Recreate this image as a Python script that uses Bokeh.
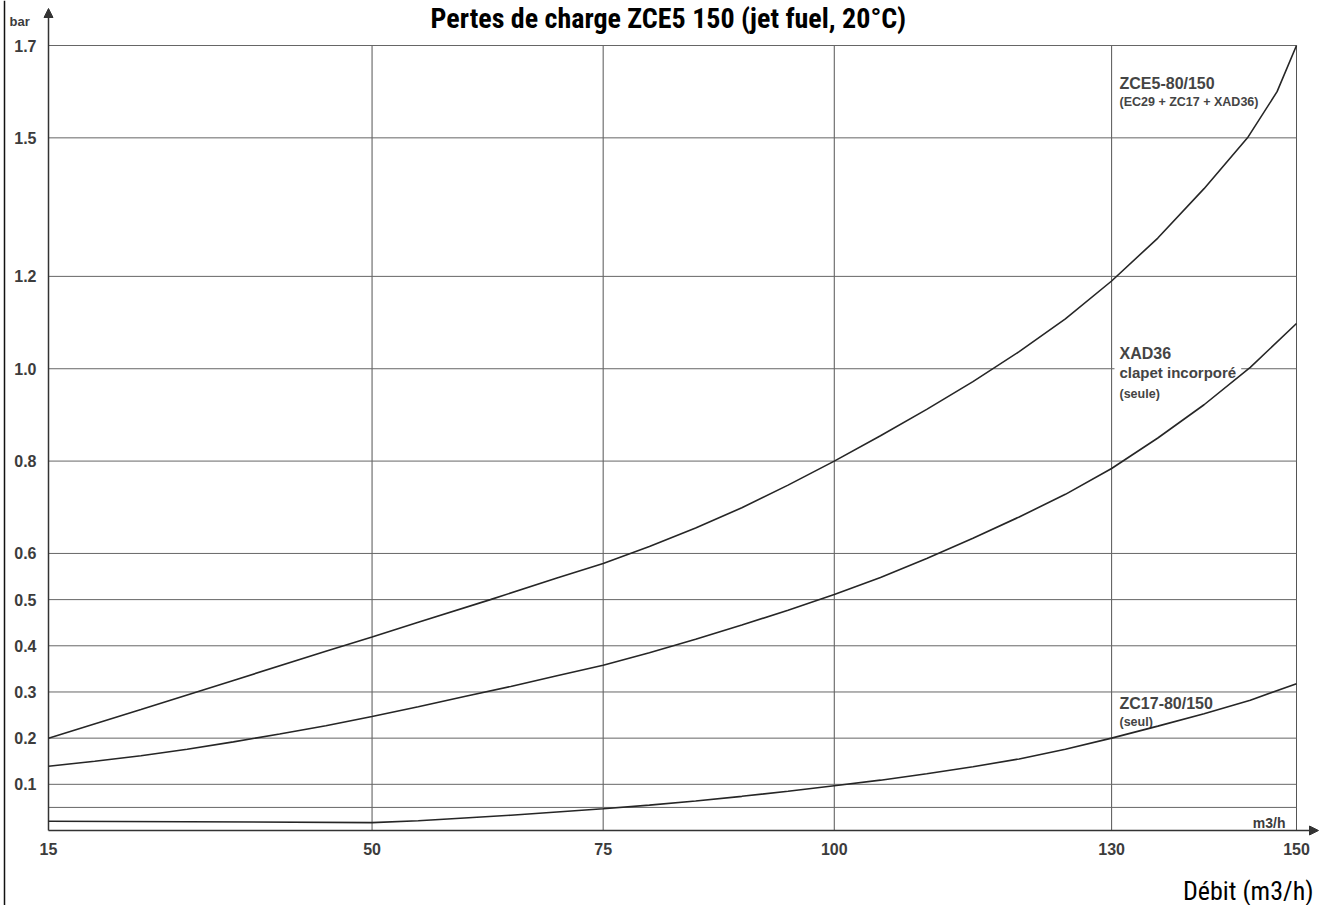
from bokeh.plotting import figure
from bokeh.models import Range1d, Label, Arrow, NormalHead, Span
from bokeh.core.properties import value
from bokeh.embed import file_html
from bokeh.resources import INLINE

# ---------------- data ----------------
title_text = "Pertes de charge ZCE5 150  (jet fuel, 20°C)"
x_axis_title = "Débit (m3/h)"
y_unit = "bar"
x_unit = "m3/h"

x_ticks = [15, 50, 75, 100, 130, 150]
x_tick_labels = ["15", "50", "75", "100", "130", "150"]
x_grid = [50, 75, 100, 130, 150]
y_ticks = [0.1, 0.2, 0.3, 0.4, 0.5, 0.6, 0.8, 1.0, 1.2, 1.5, 1.7]
y_tick_labels = ["0.1", "0.2", "0.3", "0.4", "0.5", "0.6", "0.8", "1.0", "1.2", "1.5", "1.7"]
y_grid = [0.05, 0.1, 0.2, 0.3, 0.4, 0.5, 0.6, 0.8, 1.0, 1.2, 1.5, 1.7]

zce5_x = [15, 25, 35, 45, 50, 55, 62.8, 70, 75, 80, 85, 90, 95, 100, 105, 110, 115,
          120, 125, 130, 135, 140, 144.7, 147.9, 150]
zce5_y = [0.200, 0.262, 0.325, 0.388, 0.419, 0.451, 0.500, 0.547, 0.578, 0.615, 0.655,
          0.699, 0.748, 0.800, 0.855, 0.912, 0.972, 1.037, 1.108, 1.190, 1.283, 1.390,
          1.500, 1.600, 1.700]

xad36_x = [15, 20, 25, 30, 35, 40, 45, 50, 55, 60, 65, 70, 75, 80, 85, 90, 95, 100,
           105, 110, 115, 120, 125, 130, 135, 140, 145, 150]
xad36_y = [0.139, 0.150, 0.162, 0.176, 0.192, 0.209, 0.227, 0.247, 0.268, 0.290, 0.312,
           0.335, 0.358, 0.385, 0.414, 0.445, 0.477, 0.511, 0.548, 0.589, 0.633, 0.679,
           0.728, 0.784, 0.850, 0.922, 1.003, 1.098]

zc17_x = [15, 30, 50, 55, 60, 65, 70, 75, 80, 85, 90, 95, 100, 105, 110, 115, 120,
          125, 130, 135, 140, 145, 150]
zc17_y = [0.020, 0.019, 0.017, 0.021, 0.027, 0.033, 0.040, 0.047, 0.055, 0.064, 0.074,
          0.085, 0.097, 0.109, 0.123, 0.138, 0.155, 0.176, 0.200, 0.226, 0.253, 0.282,
          0.318]

# curve annotations: text, vertical pixel position of the text centre, font size
curve_labels = [
    ("ZCE5-80/150", 82.5, "16px"),
    ("(EC29 + ZC17 + XAD36)", 101, "12.5px"),
    ("XAD36", 352.5, "16px"),
    ("(seule)", 393, "12.5px"),
    ("ZC17-80/150", 703, "16px"),
    ("(seul)", 721, "12.5px"),
]
clapet_label = ("clapet incorporé", 372, "15px")

# ---------------- layout in pixels ----------------
W, H = 1320, 905
X_LO, X_HI = 15, 150
Y_LO, Y_HI = 0.0, 1.7
LEFT_PX, RIGHT_PX = 48, 1296     # pixel columns of X_LO / X_HI
TOP_PX, BOTTOM_PX = 45, 830      # pixel rows of Y_HI / Y_LO

SX = (RIGHT_PX - LEFT_PX) / (X_HI - X_LO)
SY = (BOTTOM_PX - TOP_PX) / (Y_HI - Y_LO)
xmin = X_LO - LEFT_PX / SX
xmax = xmin + W / SX
ymin = Y_LO - (H - BOTTOM_PX) / SY
ymax = ymin + H / SY


def dx(px):
    """data x for a pixel column"""
    return xmin + px / SX


def dy(py):
    """data y for a pixel row (from the top)"""
    return ymin + (H - py) / SY


p = figure(width=W, height=H, output_backend="svg", toolbar_location=None,
           x_range=Range1d(xmin, xmax), y_range=Range1d(ymin, ymax),
           x_axis_location=None, y_axis_location=None, min_border=0)
p.background_fill_color = "white"
p.border_fill_color = "white"
p.outline_line_color = None
p.grid.visible = False

TICK_FONT = "Liberation Sans"
NARROW = "'Liberation Sans Narrow', 'Arial Narrow', 'Roboto Condensed', sans-serif"
GRAY = "#3c3c3c"

# grid lines, limited to the chart area
p.segment(x0=x_grid, y0=[Y_LO] * len(x_grid), x1=x_grid, y1=[Y_HI] * len(x_grid),
          line_color="#555555", line_width=1, level="underlay")
p.segment(x0=[X_LO] * len(y_grid), y0=y_grid, x1=[X_HI] * len(y_grid), y1=y_grid,
          line_color="#666666", line_width=1, level="underlay")

# page edge line of the scan
p.add_layout(Span(location=dx(4), dimension="height", line_color="#111111", line_width=1.5))

# curves (drawn above annotations so the white label box does not hide them)
for xs, ys in ((zce5_x, zce5_y), (xad36_x, xad36_y), (zc17_x, zc17_y)):
    p.line(xs, ys, line_color="#262626", line_width=1.6, level="overlay")

# axis lines with arrows
head_kw = dict(size=9, fill_color="#333333", line_color="#333333")
p.add_layout(Arrow(x_start=X_LO, y_start=Y_LO, x_end=dx(1318), y_end=Y_LO,
                   line_color="#333333", line_width=1.5, end=NormalHead(**head_kw)))
p.add_layout(Arrow(x_start=X_LO, y_start=Y_LO, x_end=X_LO, y_end=dy(8),
                   line_color="#333333", line_width=1.5, end=NormalHead(**head_kw)))

# tick labels
p.text(x=[dx(LEFT_PX - 12)] * len(y_ticks), y=y_ticks, text=y_tick_labels,
       text_font=value(TICK_FONT), text_font_size="16px", text_font_style="bold",
       text_color=GRAY, text_align="right", text_baseline="middle")
p.text(x=x_ticks, y=[dy(BOTTOM_PX + 18)] * len(x_ticks), text=x_tick_labels,
       text_font=value(TICK_FONT), text_font_size="16px", text_font_style="bold",
       text_color=GRAY, text_align="center", text_baseline="middle")

# curve labels
LBL_X = 1119
for txt, py, fs in curve_labels:
    p.add_layout(Label(x=dx(LBL_X), y=dy(py), text=txt, text_font=TICK_FONT,
                       text_font_size=fs, text_font_style="bold", text_color="#444444",
                       text_baseline="middle", text_align="left"))
txt, py, fs = clapet_label
p.add_layout(Label(x=dx(LBL_X - 5), y=dy(py), text=txt, text_font=TICK_FONT,
                   text_font_size=fs, text_font_style="bold", text_color="#444444",
                   text_baseline="middle", text_align="left",
                   background_fill_color="white", padding=5))

# units
p.add_layout(Label(x=dx(9), y=dy(21), text=y_unit,
                   text_font=TICK_FONT, text_font_size="13px", text_font_style="bold",
                   text_color=GRAY, text_baseline="middle", text_align="left"))
p.add_layout(Label(x=dx(1285), y=dy(822), text=x_unit,
                   text_font=TICK_FONT, text_font_size="14px", text_font_style="bold",
                   text_color=GRAY, text_baseline="middle", text_align="right"))

# title and axis title
p.add_layout(Label(x=dx(671), y=dy(18), text=title_text,
                   text_font=NARROW, text_font_size="28px", text_font_style="bold",
                   text_color="black", text_baseline="middle", text_align="center"))
p.add_layout(Label(x=dx(1313), y=dy(890), text=x_axis_title,
                   text_font=NARROW, text_font_size="26px",
                   text_color="black", text_baseline="middle", text_align="right"))

open("out.html", "w").write(file_html(p, INLINE))
